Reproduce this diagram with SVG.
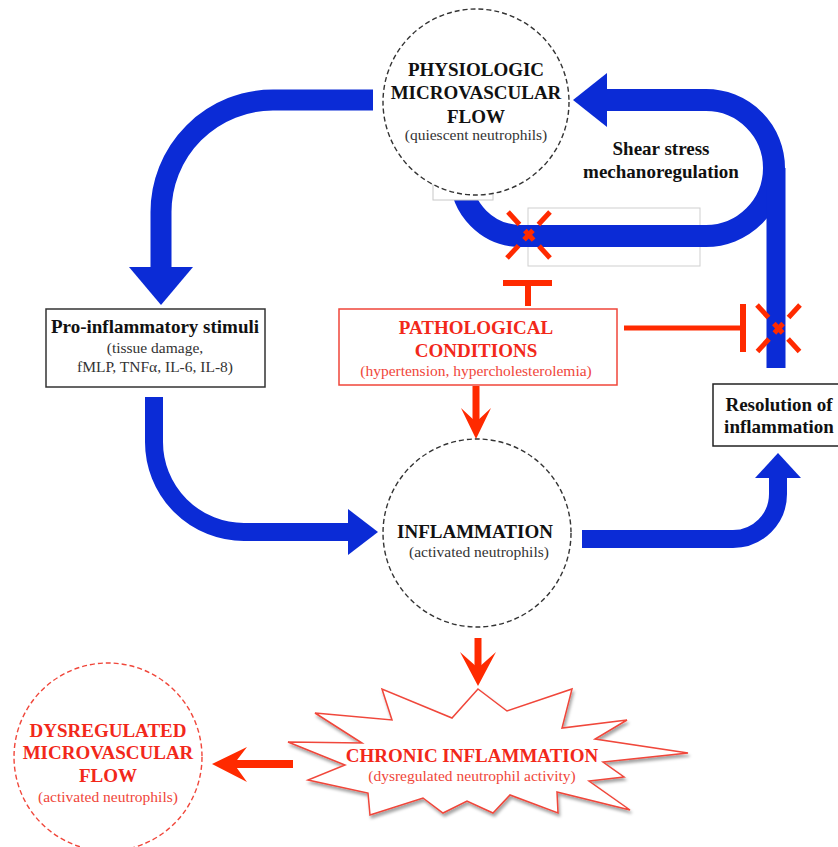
<svg xmlns="http://www.w3.org/2000/svg" width="838" height="847" viewBox="0 0 838 847">
<defs>
<style>
text{font-family:"Liberation Serif","Times New Roman",serif;text-anchor:middle}
.t{font-size:19px;font-weight:bold;fill:#111}
.s{font-size:15.5px;fill:#333}
.rt{font-size:19px;font-weight:bold;fill:#f2281a}
.rs{font-size:15.5px;fill:#f0463a}
.blue{fill:none;stroke:#0b2bd6}
.bh{fill:#0b2bd6}
.red{stroke:#ff2a00;fill:none}
.rh{fill:#ff2a00}
.x{stroke:#ff2a00;stroke-width:5;stroke-dasharray:17 8 13 8 17;fill:none}
.dash{fill:#fff;stroke:#333;stroke-width:1.4;stroke-dasharray:5 3}
.rdash{fill:#fff;stroke:#f0463a;stroke-width:1.4;stroke-dasharray:5 3}
</style>
<filter id="sh" x="-10%" y="-10%" width="130%" height="140%">
<feDropShadow dx="1.5" dy="3" stdDeviation="1.5" flood-color="#000" flood-opacity="0.35"/>
</filter>
</defs>

<rect x="528" y="208" width="172" height="58" fill="#fff" stroke="#cfcfcf" stroke-width="1"/>

<g id="connectors">
<path class="blue" stroke-width="21" d="M373 100 L273 100 A112 112 0 0 0 161 212 L161 268"/>
<polygon class="bh" points="129,267 193,267 161,305"/>
<path class="blue" stroke-width="22" d="M606 100 L706 100 A68 68 0 0 1 706 236 L521 236 A60 60 0 0 1 461 176"/>
<polygon class="bh" points="573,100 607,73 607,127"/>
<line class="blue" stroke-width="19" x1="776" y1="368" x2="776" y2="168"/>
<path class="blue" stroke-width="18" d="M154 397 L154 442 A90 90 0 0 0 244 532 L349 532"/>
<polygon class="bh" points="348,509 348,555 378,532"/>
<path class="blue" stroke-width="18" d="M582 539 L733 539 A45 45 0 0 0 778 494 L778 477"/>
<polygon class="bh" points="755,478 801,478 778,453"/>
<line class="red" stroke-width="5" x1="624" y1="328" x2="743" y2="328"/>
<line class="red" stroke-width="6" x1="743" y1="304" x2="743" y2="352"/>
<line class="red" stroke-width="6" x1="528" y1="306" x2="528" y2="283"/>
<line class="red" stroke-width="6" x1="503" y1="283" x2="552" y2="283"/>
<line class="x" x1="508" y1="212" x2="550" y2="258"/>
<line class="x" x1="550" y1="212" x2="507" y2="258"/>
<line class="x" x1="757" y1="305" x2="800" y2="352"/>
<line class="x" x1="800" y1="305" x2="757" y2="352"/>
<line class="red" stroke-width="7" x1="476" y1="386" x2="476" y2="424"/>
<polygon class="rh" points="476,439 461,408 476,422 491,408"/>
<line class="red" stroke-width="7" x1="478" y1="638" x2="478" y2="670"/>
<polygon class="rh" points="478,686 460,652 478,668 496,652"/>
<line class="red" stroke-width="8" x1="293" y1="764" x2="232" y2="764"/>
<polygon class="rh" points="212,764 247,747 234,764 247,782"/>
</g>

<rect x="433" y="170" width="60" height="30" fill="#fff" stroke="#c8c8c8" stroke-width="1"/>

<g id="physiologic">
<circle class="dash" cx="476" cy="102" r="93"/>
<text class="t" x="476" y="76">PHYSIOLOGIC</text>
<text class="t" x="476" y="99">MICROVASCULAR</text>
<text class="t" x="476" y="123">FLOW</text>
<text class="s" x="476" y="140">(quiescent neutrophils)</text>
</g>

<g id="shear">
<text class="t" x="661" y="155">Shear stress</text>
<text class="t" x="661" y="178">mechanoregulation</text>
</g>

<g id="proinflammatory">
<rect x="46" y="309" width="219" height="78" fill="#fff" stroke="#333" stroke-width="1.5"/>
<text class="t" x="155" y="333">Pro-inflammatory stimuli</text>
<text class="s" x="155" y="353">(tissue damage,</text>
<text class="s" x="155" y="372">fMLP, TNFα, IL-6, IL-8)</text>
</g>

<g id="pathological">
<rect x="339" y="309" width="278" height="76" fill="#fff" stroke="#f0463a" stroke-width="1.5"/>
<text class="rt" x="476" y="334">PATHOLOGICAL</text>
<text class="rt" x="476" y="357">CONDITIONS</text>
<text class="rs" x="476" y="376">(hypertension, hypercholesterolemia)</text>
</g>

<g id="resolution">
<rect x="713" y="384" width="135" height="62" fill="#fff" stroke="#222" stroke-width="1.5"/>
<text class="t" x="779" y="411">Resolution of</text>
<text class="t" x="779" y="433">inflammation</text>
</g>

<g id="inflammation">
<circle class="dash" cx="477" cy="533" r="94"/>
<text class="t" x="475" y="538">INFLAMMATION</text>
<text class="s" x="479" y="557">(activated neutrophils)</text>
</g>

<g id="chronic">
<polygon filter="url(#sh)" fill="#fff" stroke="#f0463a" stroke-width="1.5" stroke-linejoin="miter" points="478,689 507,711 572,689 562,728 627,720 595,739 688,753 603,762 624,777 589,781 630,810 557,792 558,813 510,795 493,813 467,801 443,813 423,798 370,815 368,793 308,780 345,765 288,742 362,743 315,713 392,720 382,689 452,718"/>
<text class="rt" x="472" y="762">CHRONIC INFLAMMATION</text>
<text class="rs" x="472" y="781">(dysregulated neutrophil activity)</text>
</g>

<g id="dysregulated">
<circle class="rdash" cx="108" cy="757" r="94"/>
<text class="rt" x="108" y="737">DYSREGULATED</text>
<text class="rt" x="108" y="759">MICROVASCULAR</text>
<text class="rt" x="108" y="782">FLOW</text>
<text class="rs" x="108" y="802">(activated neutrophils)</text>
</g>
</svg>
